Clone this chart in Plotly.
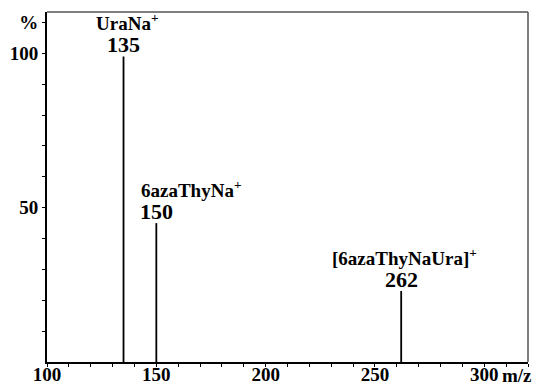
import plotly.graph_objects as go

# Mass spectrum peaks
mz = [135, 150, 262]
intensity = [99, 45, 23]
ion_names = ["UraNa", "6azaThyNa", "[6azaThyNaUra]"]
name_align = ["center", "left", "center"]

x_ticks = list(range(100, 330, 10))
x_labels = [str(v) if v % 50 == 0 else "" for v in x_ticks]
y_ticks = list(range(10, 120, 10))
y_labels = ["50" if v == 50 else "100" if v == 100 else "%" if v == 110 else "" for v in y_ticks]

FONT = "Liberation Serif"

# Stick spectrum: one vertical segment per peak
xs, ys = [], []
for m, h in zip(mz, intensity):
    xs += [m, m, None]
    ys += [0, h, None]

fig = go.Figure()
fig.add_trace(go.Scatter(x=xs, y=ys, mode="lines",
                         line=dict(color="black", width=1.8),
                         hoverinfo="skip", showlegend=False))

annotations = []
for m, h, name, align in zip(mz, intensity, ion_names, name_align):
    # m/z value right above the peak
    annotations.append(dict(
        x=m, y=h, xref="x", yref="y", text=f"{m}", showarrow=False,
        xanchor="center", yanchor="bottom", yshift=-3,
        font=dict(family=FONT, size=22, color="black", weight="bold")))
    # ion label above the m/z value
    if align == "left":
        anchor, shift = "left", -17
    else:
        anchor, shift = "center", 3
    annotations.append(dict(
        x=m, y=h, xref="x", yref="y", text=f"{name}<sup>+</sup>", showarrow=False,
        xanchor=anchor, xshift=shift, yanchor="bottom", yshift=20,
        font=dict(family=FONT, size=19, color="black", weight="bold")))

# axis unit on the right end
annotations.append(dict(
    x=1, y=0, xref="paper", yref="paper", text="m/z", showarrow=False,
    xanchor="right", yanchor="top", xshift=6, yshift=-1,
    font=dict(family=FONT, size=19, color="black", weight="bold")))

axis_common = dict(
    showgrid=False, zeroline=False, showline=True, linecolor="black",
    linewidth=2, ticks="outside", ticklen=3, tickwidth=1, tickcolor="black",
    automargin=False,
    tickfont=dict(family=FONT, size=19, color="black", weight="bold"),
)

fig.update_layout(
    width=535, height=385,
    margin=dict(l=47, r=7, t=12, b=23),
    paper_bgcolor="white", plot_bgcolor="white",
    xaxis=dict(range=[100, 320], tickmode="array", tickvals=x_ticks,
               ticktext=x_labels, ticklabelstandoff=-9, **axis_common),
    yaxis=dict(range=[0, 113.4], tickmode="array", tickvals=y_ticks,
               ticktext=y_labels, **axis_common),
    annotations=annotations,
    shapes=[
        dict(type="line", xref="paper", yref="paper", x0=0, x1=1, y0=1, y1=1,
             line=dict(color="#555555", width=1.5)),
        dict(type="line", xref="paper", yref="paper", x0=1, x1=1, y0=0, y1=1,
             line=dict(color="#555555", width=1.5)),
    ],
)

fig.write_html("out.html")
